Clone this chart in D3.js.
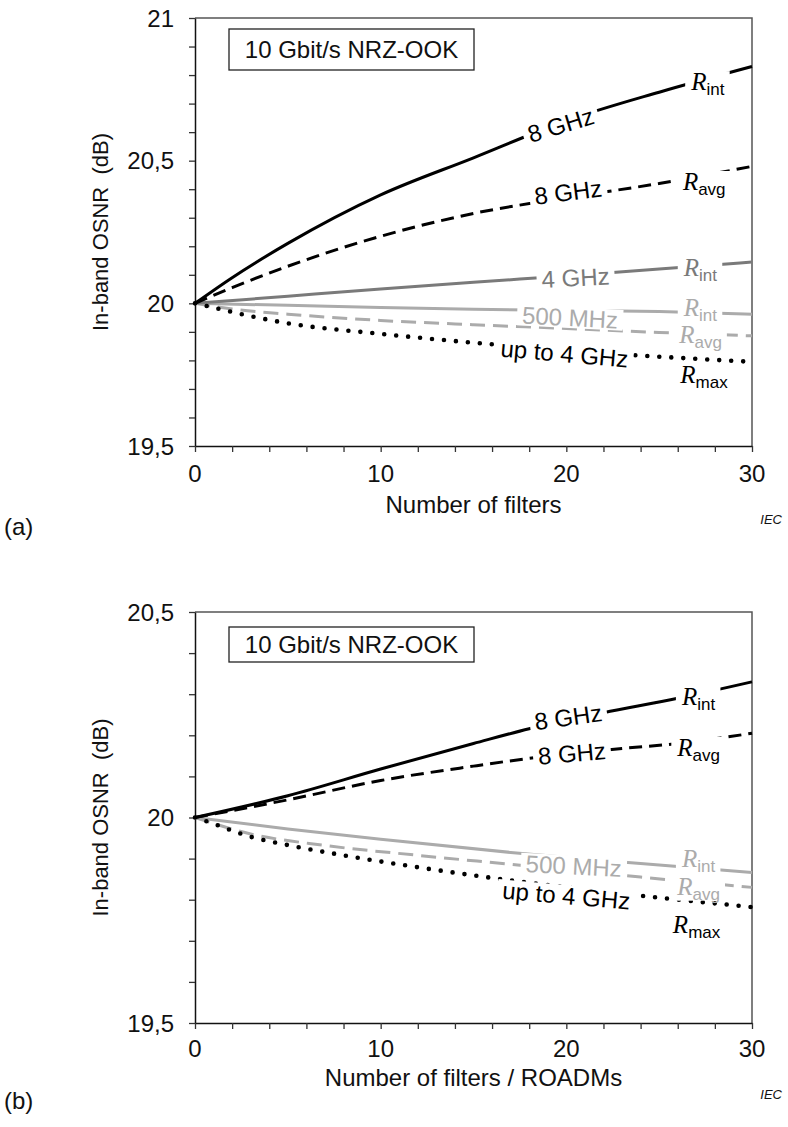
<!DOCTYPE html>
<html><head><meta charset="utf-8">
<script src="https://cdn.jsdelivr.net/npm/d3@7/dist/d3.min.js"></script>
<style>
html,body{margin:0;padding:0;background:#fff;}
svg{display:block;}
</style></head><body>
<svg id="chart" width="788" height="1127"></svg>
<script>
// ---------------- data: panel (a) ----------------
const xA_int8   = [0, 2, 5, 10, 15, 20, 25, 30];
const yA_int8   = [20, 20.09, 20.21, 20.38, 20.51, 20.64, 20.74, 20.83];
const xA_avg8   = [0, 2, 5, 10, 15, 20, 25, 30];
const yA_avg8   = [20, 20.055, 20.13, 20.235, 20.315, 20.37, 20.42, 20.48];
const xA_int4   = [0, 5, 10, 15, 20, 25, 30];
const yA_int4   = [20, 20.025, 20.05, 20.074, 20.096, 20.12, 20.145];
const xA_int500 = [0, 5, 10, 15, 20, 25, 30];
const yA_int500 = [20, 19.993, 19.985, 19.979, 19.975, 19.971, 19.962];
const xA_avg500 = [0, 2, 5, 10, 15, 20, 25, 30];
const yA_avg500 = [20, 19.98, 19.962, 19.94, 19.925, 19.912, 19.898, 19.886];
const xA_max    = [0, 1, 3, 5, 10, 15, 20, 25, 30];
const yA_max    = [20, 19.985, 19.955, 19.93, 19.893, 19.862, 19.835, 19.813, 19.795];

// ---------------- data: panel (b) ----------------
const xB_int8   = [0, 5, 10, 15, 18, 22, 26, 30];
const yB_int8   = [20, 20.053, 20.118, 20.18, 20.216, 20.255, 20.29, 20.33];
const xB_avg8   = [0, 5, 10, 15, 18, 23, 26, 30];
const yB_avg8   = [20, 20.043, 20.09, 20.125, 20.144, 20.168, 20.18, 20.205];
const xB_int500 = [0, 5, 10, 17, 24, 30];
const yB_int500 = [20, 19.972, 19.947, 19.915, 19.888, 19.866];
const xB_avg500 = [0, 3, 7, 12, 17, 24, 30];
const yB_avg500 = [20, 19.96, 19.932, 19.908, 19.886, 19.855, 19.83];
const xB_max    = [0, 1, 2, 3, 5, 8, 12, 16, 20, 25, 30];
const yB_max    = [20, 19.985, 19.968, 19.953, 19.933, 19.908, 19.879, 19.853, 19.83, 19.805, 19.782];

// ---------------- ticks / texts ----------------
const xTickValues  = d3.range(0, 30.001, 2);
const xTickLabels  = ["0", "10", "20", "30"];
const yTickLabelsA = ["19,5", "20", "20,5", "21"];
const yTickLabelsB = ["19,5", "20", "20,5"];
const yDomainA = [19.5, 21];
const yDomainB = [19.5, 20.5];
const xDomain  = [0, 30];
const boxText  = "10 Gbit/s NRZ-OOK";
const yTitle   = "In-band OSNR  (dB)";
const xTitleA  = "Number of filters";
const xTitleB  = "Number of filters / ROADMs";

// label anchors (data units)
const labelsA = [
  {text: "8 GHz", x: 19.7, y: 20.625, angle: -17, tone: "k"},
  {sub: "int",    x: 27.6, y: 20.77, tone: "k"},
  {text: "8 GHz", x: 20.1, y: 20.39, angle: -7, tone: "k"},
  {sub: "avg",    x: 27.4, y: 20.42, tone: "k"},
  {text: "4 GHz", x: 20.5, y: 20.09, angle: -3, tone: "d"},
  {sub: "int",    x: 27.2, y: 20.118, tone: "d"},
  {text: "500 MHz", x: 20.2, y: 19.95, angle: 3, tone: "l"},
  {sub: "int",    x: 27.2, y: 19.978, tone: "l"},
  {sub: "avg",    x: 27.2, y: 19.884, tone: "l"},
  {text: "up to 4 GHz", x: 19.9, y: 19.824, angle: 5, tone: "k"},
  {sub: "max",    x: 27.4, y: 19.742, tone: "k"}
];
const labelsB = [
  {text: "8 GHz", x: 20.1, y: 20.244, angle: -8, tone: "k"},
  {sub: "int",    x: 27.1, y: 20.29, tone: "k"},
  {text: "8 GHz", x: 20.3, y: 20.156, angle: -5, tone: "k"},
  {sub: "avg",    x: 27.1, y: 20.166, tone: "k"},
  {text: "500 MHz", x: 20.4, y: 19.882, angle: 3, tone: "l"},
  {sub: "int",    x: 27.1, y: 19.896, tone: "l"},
  {sub: "avg",    x: 27.1, y: 19.828, tone: "l"},
  {text: "up to 4 GHz", x: 20.0, y: 19.81, angle: 5, tone: "k"},
  {sub: "max",    x: 27.0, y: 19.736, tone: "k"}
];

// ---------------- styles ----------------
const SANS = "'Liberation Sans', Arial, Helvetica, sans-serif";
const SERIF = "'Liberation Serif', 'Times New Roman', serif";
const tones = {k: "#000000", d: "#7a7a7a", l: "#ababab"};
const styleSolid  = {dash: null, width: 3};
const styleDash   = {dash: "13,7", width: 3};
const styleGDash  = {dash: "15,8", width: 3};
const styleDot    = {dash: "0,12", width: 4.6, cap: "round"};

const seriesA = [
  {x: xA_int500, y: yA_int500, tone: "l", st: styleSolid},
  {x: xA_avg500, y: yA_avg500, tone: "l", st: styleGDash},
  {x: xA_int4,   y: yA_int4,   tone: "d", st: styleSolid},
  {x: xA_max,    y: yA_max,    tone: "k", st: styleDot},
  {x: xA_avg8,   y: yA_avg8,   tone: "k", st: styleDash},
  {x: xA_int8,   y: yA_int8,   tone: "k", st: styleSolid}
];
const seriesB = [
  {x: xB_int500, y: yB_int500, tone: "l", st: styleSolid},
  {x: xB_avg500, y: yB_avg500, tone: "l", st: styleGDash},
  {x: xB_max,    y: yB_max,    tone: "k", st: styleDot},
  {x: xB_avg8,   y: yB_avg8,   tone: "k", st: styleDash},
  {x: xB_int8,   y: yB_int8,   tone: "k", st: styleSolid}
];

const panels = [
  {top: 18, bottom: 446, yDomain: yDomainA, yLabels: yTickLabelsA, series: seriesA, labels: labelsA,
   xTitle: xTitleA, tag: "(a)", box: {y: 29, h: 41}, off: {tick: 36, title: 67, tag: 89, iec: 78}},
  {top: 612, bottom: 1023, yDomain: yDomainB, yLabels: yTickLabelsB, series: seriesB, labels: labelsB,
   xTitle: xTitleB, tag: "(b)", box: {y: 627, h: 35}, off: {tick: 34, title: 63, tag: 86, iec: 76}}
];

const svg = d3.select("#chart");
const L = 195, R = 752;
const toNum = s => +s.replace(",", ".");

panels.forEach(p => {
  const x = d3.scaleLinear().domain(xDomain).range([L, R]);
  const y = d3.scaleLinear().domain(p.yDomain).range([p.bottom, p.top]);
  const g = svg.append("g");

  // frame (top/right)
  g.append("path")
    .attr("d", `M${L},${p.top}H${R}V${p.bottom}`)
    .attr("fill", "none").attr("stroke", "#555").attr("stroke-width", 1.5);

  // axes
  const yTicks = d3.range(Math.round(p.yDomain[0]*10), Math.round(p.yDomain[1]*10) + 1).map(v => v / 10);
  const ya = g.append("g").attr("transform", `translate(${L},0)`)
    .call(d3.axisLeft(y).tickValues(yTicks).tickSize(6).tickSizeOuter(0).tickFormat(""));
  const xa = g.append("g").attr("transform", `translate(0,${p.bottom})`)
    .call(d3.axisBottom(x).tickValues(xTickValues).tickSize(6).tickSizeOuter(0).tickFormat(""));
  [ya, xa].forEach(a => {
    a.select(".domain").attr("stroke", "#111").attr("stroke-width", 1.5);
    a.selectAll(".tick line").attr("stroke", "#333").attr("stroke-width", 1.3);
  });

  // tick labels
  p.yLabels.forEach(s => {
    g.append("text").attr("x", 174).attr("y", y(toNum(s)) + 8.5)
      .attr("text-anchor", "end").attr("font-family", SANS).attr("font-size", 24).attr("fill", "#111").text(s);
  });
  xTickLabels.forEach(s => {
    g.append("text").attr("x", x(toNum(s))).attr("y", p.bottom + p.off.tick)
      .attr("text-anchor", "middle").attr("font-family", SANS).attr("font-size", 24).attr("fill", "#111").text(s);
  });

  // titles
  g.append("text").attr("transform", `translate(108,${(p.top + p.bottom) / 2}) rotate(-90)`)
    .attr("text-anchor", "middle").attr("font-family", SANS).attr("font-size", 22).attr("fill", "#111")
    .attr("xml:space", "preserve").style("white-space", "pre").text(yTitle);
  g.append("text").attr("x", (L + R) / 2).attr("y", p.bottom + p.off.title)
    .attr("text-anchor", "middle").attr("font-family", SANS).attr("font-size", 24).attr("fill", "#111").text(p.xTitle);
  g.append("text").attr("x", 4).attr("y", p.bottom + p.off.tag)
    .attr("font-family", SANS).attr("font-size", 24).attr("fill", "#111").text(p.tag);
  g.append("text").attr("x", 782).attr("y", p.bottom + p.off.iec).attr("text-anchor", "end")
    .attr("font-family", SANS).attr("font-size", 13).attr("font-style", "italic").attr("fill", "#111").text("IEC");

  // box label
  g.append("rect").attr("x", 229).attr("y", p.box.y).attr("width", 245).attr("height", p.box.h)
    .attr("fill", "#fff").attr("stroke", "#222").attr("stroke-width", 1.3);
  g.append("text").attr("x", 229 + 245 / 2).attr("y", p.box.y + p.box.h / 2 + 8.5)
    .attr("text-anchor", "middle").attr("font-family", SANS).attr("font-size", 24).attr("fill", "#111").text(boxText);

  // series
  const line = d3.line().x(d => x(d[0])).y(d => y(d[1])).curve(d3.curveMonotoneX);
  const lg = g.append("g");
  p.series.forEach(s => {
    const pts = s.x.map((v, i) => [v, s.y[i]]);
    lg.append("path").attr("d", line(pts)).attr("fill", "none")
      .attr("stroke", tones[s.tone]).attr("stroke-width", s.st.width)
      .attr("stroke-dasharray", s.st.dash)
      .attr("stroke-linecap", s.st.cap || "butt");
  });

  // labels with white masks
  const maskG = g.append("g"), textG = g.append("g");
  p.labels.forEach(a => {
    const tg = textG.append("g");
    const t = tg.append("text").attr("fill", tones[a.tone]);
    if (a.sub) {
      t.append("tspan").attr("font-family", SERIF).attr("font-style", "italic").attr("font-size", 25).text("R");
      t.append("tspan").attr("font-family", SANS).attr("font-size", 17).attr("dy", 5).text(a.sub);
    } else {
      t.attr("font-family", SANS).attr("font-size", 24).text(a.text);
    }
    const bb = t.node().getBBox();
    const cx = bb.x + bb.width / 2, cy = bb.y + bb.height / 2;
    const tr = `translate(${x(a.x)},${y(a.y)}) rotate(${a.angle || 0}) translate(${-cx},${-cy})`;
    tg.attr("transform", tr);
    maskG.append("rect").attr("transform", tr)
      .attr("x", bb.x - 5).attr("y", bb.y + 3).attr("width", bb.width + 10).attr("height", bb.height - 6)
      .attr("fill", "#fff");
  });
});
</script>
</body></html>
